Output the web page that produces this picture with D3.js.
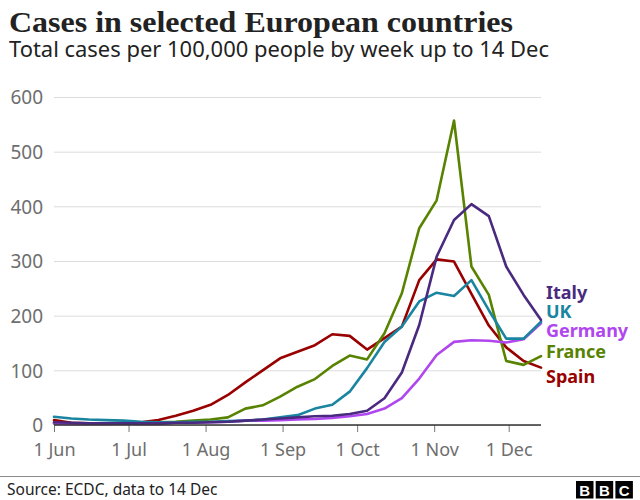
<!DOCTYPE html>
<html>
<head>
<meta charset="utf-8">
<script src="https://cdn.jsdelivr.net/npm/d3@7"></script>
<style>
  html, body { margin: 0; padding: 0; background: #fff; }
  svg { display: block; }
</style>
</head>
<body>
<svg id="chart" width="640" height="500"></svg>
<script>
// ---- Data (weekly, 1 Jun to 14 Dec 2020) ----
const weeks = ["2020-06-01","2020-06-08","2020-06-15","2020-06-22","2020-06-29","2020-07-06","2020-07-13","2020-07-20","2020-07-27","2020-08-03","2020-08-10","2020-08-17","2020-08-24","2020-08-31","2020-09-07","2020-09-14","2020-09-21","2020-09-28","2020-10-05","2020-10-12","2020-10-19","2020-10-26","2020-11-02","2020-11-09","2020-11-16","2020-11-23","2020-11-30","2020-12-07","2020-12-14"];
const countries = ["Italy", "UK", "Germany", "France", "Spain"];
const italy   = [5,4,3,3,3,3,3,4,4,5,6,8,10,12,14,16,17,20,26,49,96,183,308,375,404,382,290,238,192];
const uk      = [15,12,10,9,8,6,5,5,6,6,7,8,10,14,18,30,37,61,104,152,180,226,242,236,265,210,158,158,189];
const germany = [3,2,2,2,3,2,2,4,4,5,6,8,8,9,10,11,13,16,20,30,49,85,128,152,155,154,151,157,186];
const france  = [3,3,3,3,4,4,5,6,8,10,14,30,36,52,70,84,108,127,120,168,241,360,411,557,290,238,117,110,126];
const spain   = [9,4,3,3,3,5,9,17,26,37,55,78,100,122,134,146,166,163,138,159,180,265,303,299,240,182,142,117,105];
const yTicks  = [0,100,200,300,400,500,600];
const xTickDates = ["2020-06-01","2020-07-01","2020-08-01","2020-09-01","2020-10-01","2020-11-01","2020-12-01"];
const colors  = ["#4a2a7f", "#1a85a1", "#b047ee", "#588300", "#990000"];
const labelBaselines = [299, 318, 337, 358, 383];

const series = [italy, uk, germany, france, spain];
const parse = d3.timeParse("%Y-%m-%d");
const dates = weeks.map(parse);

const svg = d3.select("#chart");
const x = d3.scaleTime().domain([parse("2020-06-01"), parse("2020-12-14")]).range([54, 541]);
const y = d3.scaleLinear().domain([0, 600]).range([425, 97]);

// Title / subtitle
svg.append("text").attr("x", 9).attr("y", 32)
  .attr("font-family", "'Liberation Serif', 'DejaVu Serif', serif")
  .attr("font-weight", 700).attr("font-size", 29).attr("fill", "#222")
  .attr("textLength", 504).attr("lengthAdjust", "spacingAndGlyphs")
  .text("Cases in selected European countries");
svg.append("text").attr("x", 9).attr("y", 57)
  .attr("font-family", "'Noto Sans', 'Open Sans', sans-serif")
  .attr("font-size", 21).attr("fill", "#222")
  .attr("textLength", 540).attr("lengthAdjust", "spacingAndGlyphs")
  .text("Total cases per 100,000 people by week up to 14 Dec");

// Y grid + labels
const yAxis = d3.axisLeft(y).tickValues(yTicks).tickSize(-(541 - 54)).tickFormat(d3.format("d"));
const gy = svg.append("g").attr("transform", "translate(54,0)").call(yAxis);
gy.select(".domain").remove();
gy.selectAll(".tick line").attr("stroke", "#dcdcdc").attr("stroke-width", 1);
gy.selectAll(".tick text")
  .attr("x", -11).attr("dy", "0.36em")
  .attr("font-family", "'Noto Sans', sans-serif").attr("font-size", 19).attr("fill", "#6e6e6e");

// X axis
const xAxis = d3.axisBottom(x).tickValues(xTickDates.map(parse)).tickSize(7).tickFormat(d3.timeFormat("%-d %b"));
const gx = svg.append("g").attr("transform", "translate(0,425)").call(xAxis);
gx.select(".domain").remove();
gx.selectAll(".tick line").attr("stroke", "#777").attr("stroke-width", 1);
gx.selectAll(".tick text")
  .attr("y", 18).attr("dy", "0.71em")
  .attr("font-family", "'Noto Sans', sans-serif").attr("font-size", 18).attr("fill", "#6e6e6e");

// Lines
const line = d3.line().x((d, i) => x(dates[i])).y(d => y(d));
const order = [4, 3, 2, 1, 0];
order.forEach(k => {
  svg.append("path").datum(series[k])
    .attr("fill", "none").attr("stroke", colors[k]).attr("stroke-width", 2.6)
    .attr("stroke-linejoin", "round").attr("stroke-linecap", "round")
    .attr("d", line);
});

// Baseline
svg.append("line").attr("x1", 54).attr("x2", 541).attr("y1", y(0)).attr("y2", y(0))
  .attr("stroke", "#333").attr("stroke-width", 1.5);

// Direct labels
countries.forEach((c, k) => {
  svg.append("text").attr("x", 546).attr("y", labelBaselines[k])
    .attr("font-family", "'Noto Sans', sans-serif").attr("font-weight", 700)
    .attr("font-size", 18).attr("fill", colors[k]).text(c);
});

// Footer
svg.append("line").attr("x1", 0).attr("x2", 640).attr("y1", 476.5).attr("y2", 476.5)
  .attr("stroke", "#8a8a8a").attr("stroke-width", 1);
svg.append("text").attr("x", 7).attr("y", 495)
  .attr("font-family", "'Noto Sans', sans-serif").attr("font-size", 15.5).attr("fill", "#222")
  .text("Source: ECDC, data to 14 Dec");
const logo = svg.append("g");
["B", "B", "C"].forEach((ch, i) => {
  const bx = 576 + i * 19.7;
  logo.append("rect").attr("x", bx).attr("y", 481).attr("width", 17.5).attr("height", 17.5).attr("fill", "#000");
  logo.append("text").attr("x", bx + 8.75).attr("y", 495.5).attr("text-anchor", "middle")
    .attr("font-family", "'Liberation Sans', Arial, sans-serif").attr("font-weight", 700)
    .attr("font-size", 15).attr("fill", "#fff").text(ch);
});
</script>
</body>
</html>
